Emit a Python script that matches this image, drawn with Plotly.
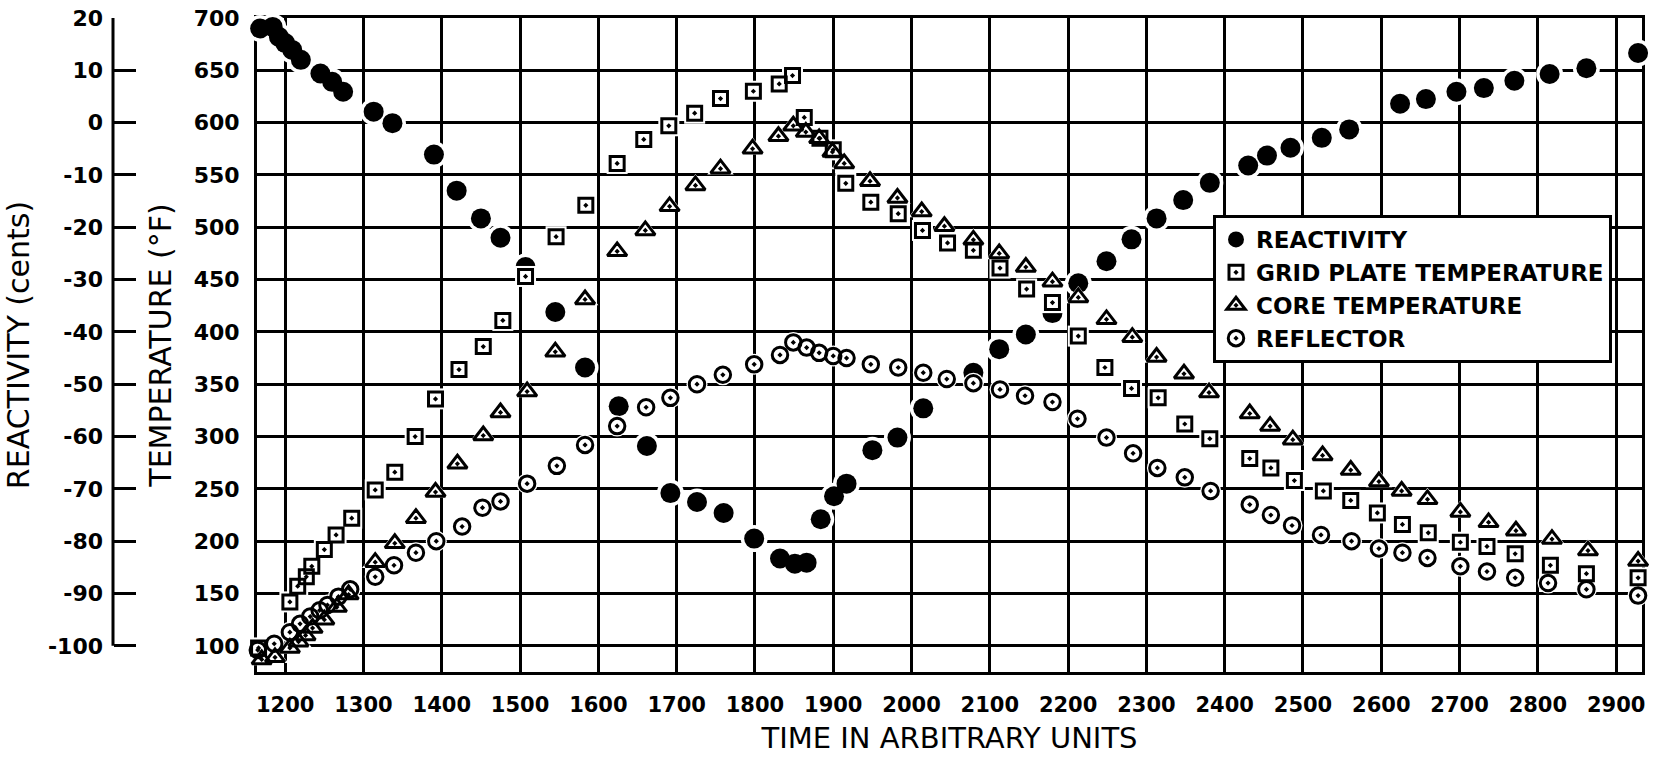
import plotly.graph_objects as go

# ---- time axis (arbitrary units) and reading series ----
REACT_T = [1168, 1184, 1192, 1200, 1209, 1220, 1245, 1260, 1274, 1313, 1337, 1390, 1419, 1450,
           1475, 1507, 1545, 1583, 1626, 1662, 1692, 1726, 1760, 1799, 1832, 1851, 1866, 1884,
           1901, 1917, 1950, 1982, 2015, 2079, 2112, 2146, 2180, 2213, 2249, 2281, 2313, 2347,
           2381, 2430, 2454, 2484, 2524, 2559, 2624, 2657, 2696, 2731, 2770, 2815, 2862, 2928]
REACT_V = [18.0, 18.3, 16.4, 15.2, 13.9, 12.0, 9.4, 7.8, 5.9, 2.1, -0.1, -6.1, -13.0, -18.3,
           -22.0, -27.6, -36.2, -46.8, -54.2, -61.8, -70.8, -72.5, -74.6, -79.5, -83.3, -84.3, -84.1, -75.8,
           -71.4, -69.0, -62.6, -60.2, -54.6, -47.8, -43.3, -40.5, -36.4, -30.7, -26.5, -22.3, -18.3, -14.8,
           -11.5, -8.2, -6.3, -4.8, -2.9, -1.3, 3.6, 4.5, 5.9, 6.6, 8.0, 9.3, 10.4, 13.3]

GRID_T = [1166, 1206, 1216, 1227, 1234, 1250, 1265, 1285, 1315, 1340, 1366, 1392, 1422, 1453,
          1478, 1507, 1546, 1584, 1624, 1658, 1690, 1723, 1756, 1798, 1831, 1848, 1863, 1883,
          1900, 1916, 1948, 1983, 2014, 2046, 2079, 2113, 2147, 2180, 2213, 2247, 2281, 2315,
          2349, 2381, 2432, 2459, 2489, 2526, 2561, 2595, 2627, 2660, 2701, 2735, 2771, 2816,
          2862, 2928]
GRID_V = [98, 142, 157, 166, 176, 192, 206, 222, 249, 266, 300, 336, 364, 386,
          411, 453, 491, 521, 561, 584, 597, 609, 623, 630, 637, 645, 605, 585,
          574, 542, 524, 513, 497, 485, 478, 461, 441, 428, 396, 366, 346, 337,
          312, 298, 279, 270, 258, 248, 239, 227, 216, 208, 199, 195, 188, 177,
          169, 165]

CORE_T = [1170, 1187, 1206, 1217, 1226, 1235, 1250, 1266, 1281, 1315, 1340, 1367, 1392, 1420,
          1453, 1475, 1509, 1545, 1583, 1624, 1660, 1691, 1724, 1756, 1797, 1830, 1849, 1865,
          1882, 1899, 1914, 1947, 1982, 2013, 2042, 2079, 2112, 2146, 2180, 2213, 2249, 2282,
          2313, 2348, 2380, 2432, 2458, 2487, 2525, 2561, 2597, 2626, 2659, 2701, 2737, 2772,
          2818, 2864, 2928]
CORE_V = [87, 89, 98, 104, 110, 117, 125, 137, 149, 180, 198, 222, 247, 274,
          301, 323, 343, 381, 431, 477, 497, 520, 540, 556, 575, 587, 597, 591,
          585, 572, 561, 544, 528, 515, 501, 488, 475, 462, 448, 433, 412, 395,
          376, 360, 342, 322, 310, 297, 282, 268, 257, 248, 240, 228, 218, 210,
          202, 191, 181]

REFL_T = [1165, 1186, 1206, 1219, 1232, 1244, 1254, 1268, 1283, 1315, 1339, 1367, 1393, 1426,
          1452, 1475, 1509, 1547, 1583, 1624, 1661, 1692, 1726, 1759, 1799, 1832, 1849, 1866,
          1882, 1900, 1917, 1948, 1983, 2015, 2045, 2079, 2113, 2145, 2180, 2212, 2249, 2283,
          2314, 2349, 2382, 2432, 2459, 2486, 2523, 2562, 2597, 2627, 2659, 2701, 2735, 2771,
          2813, 2862, 2928]
REFL_V = [96, 102, 113, 121, 128, 134, 139, 147, 154, 166, 177, 189, 200, 214,
          232, 238, 255, 272, 292, 310, 328, 337, 350, 359, 369, 378, 390, 385,
          380, 377, 375, 369, 366, 361, 355, 351, 345, 339, 333, 317, 299, 284,
          270, 261, 248, 235, 225, 215, 206, 200, 193, 189, 184, 176, 171, 165,
          160, 154, 148]

X_TICKS = list(range(1200, 3000, 100))
T_TICKS = list(range(100, 750, 50))
R_TICKS = list(range(-100, 30, 10))
R_LABELS = [str(v) for v in R_TICKS]

FONT = "DejaVu Sans"
INK = "black"
CLEAR = "rgba(0,0,0,0)"

# page geometry (px)
W, H = 1668, 759
M_L, M_R, M_T, M_B = 0, 26, 18, 87
PAPER_W = W - M_L - M_R
PAPER_H = H - M_T - M_B
PLOT_LEFT = 257
R_AXIS_X = 113

fig = go.Figure()

# white halos under every mark: they interrupt the grid lines around the symbols
fig.add_trace(go.Scatter(x=REACT_T, y=REACT_V, yaxis="y", mode="markers",
                         marker=dict(symbol="circle", size=27, color="white", line=dict(width=0)),
                         showlegend=False, hoverinfo="skip", cliponaxis=False))
fig.add_trace(go.Scatter(x=REACT_T, y=REACT_V, yaxis="y", mode="markers", name="REACTIVITY",
                         marker=dict(symbol="circle", size=20, color=INK, line=dict(width=0)),
                         cliponaxis=False))

temp_series = [
    ("GRID PLATE TEMPERATURE", GRID_T, GRID_V, "square-open-dot", 14, 21),
    ("CORE TEMPERATURE", CORE_T, CORE_V, "triangle-up-open-dot", 17, 23),
    ("REFLECTOR", REFL_T, REFL_V, "circle-open-dot", 15.5, 21),
]
halo_symbol = {"square-open-dot": "square", "triangle-up-open-dot": "triangle-up",
               "circle-open-dot": "circle"}
for name, xs, ys, sym, size, halo in temp_series:
    fig.add_trace(go.Scatter(x=xs, y=ys, yaxis="y2", mode="markers",
                             marker=dict(symbol=halo_symbol[sym], size=halo, color="white",
                                         line=dict(width=0)),
                             showlegend=False, hoverinfo="skip", cliponaxis=False))
for name, xs, ys, sym, size, halo in temp_series:
    fig.add_trace(go.Scatter(x=xs, y=ys, yaxis="y2", mode="markers", name=name,
                             marker=dict(symbol=sym, size=size, color=INK,
                                         line=dict(width=3, color=INK)),
                             cliponaxis=False))

fig.update_layout(
    width=W, height=H,
    margin=dict(l=M_L, r=M_R, t=M_T, b=M_B, autoexpand=False),
    paper_bgcolor="white", plot_bgcolor="white",
    font=dict(family=FONT, color=INK, size=22),
    xaxis=dict(
        domain=[PLOT_LEFT / PAPER_W, 1], range=[1164, 2933],
        tickvals=X_TICKS, ticks="outside", ticklen=12, tickcolor=CLEAR,
        tickfont=dict(size=21, weight="bold"),
        showgrid=True, gridcolor=INK, gridwidth=2.6, zeroline=False,
        showline=True, linecolor=INK, linewidth=3, mirror=True, layer="below traces",
        title=dict(text="TIME IN ARBITRARY UNITS", font=dict(size=29), standoff=12),
    ),
    yaxis=dict(
        anchor="free", position=R_AXIS_X / PAPER_W, side="left",
        range=[-105, 20], tickvals=R_TICKS, ticktext=R_LABELS,
        ticks="inside", ticklen=22, tickwidth=3, tickcolor=INK,
        ticklabelstandoff=10, tickfont=dict(size=22, weight="bold"),
        showline=False, showgrid=False, zeroline=False,
        title=dict(text="REACTIVITY (cents)", font=dict(size=30), standoff=8),
    ),
    yaxis2=dict(
        overlaying="y", anchor="x", side="left",
        range=[75, 700], tickvals=T_TICKS, ticks="",
        ticklabelstandoff=10, tickfont=dict(size=22, weight="bold"),
        showgrid=True, gridcolor=INK, gridwidth=2.6, zeroline=False,
        showline=True, linecolor=INK, linewidth=3, mirror=True, layer="below traces",
        title=dict(text="TEMPERATURE (°F)", font=dict(size=30), standoff=14),
    ),
    legend=dict(
        x=1213 / PAPER_W, y=(H - M_B - 215) / PAPER_H,
        xanchor="left", yanchor="top",
        bgcolor="white", bordercolor=INK, borderwidth=3,
        font=dict(size=23, family=FONT, color=INK, weight="bold"),
        traceorder="normal", itemsizing="trace",
    ),
    shapes=[dict(type="line", xref="paper", yref="y",
                 x0=R_AXIS_X / PAPER_W, x1=R_AXIS_X / PAPER_W,
                 y0=min(R_TICKS), y1=max(R_TICKS),
                 line=dict(color=INK, width=3))],
    showlegend=True,
)

fig.write_html("out.html")
